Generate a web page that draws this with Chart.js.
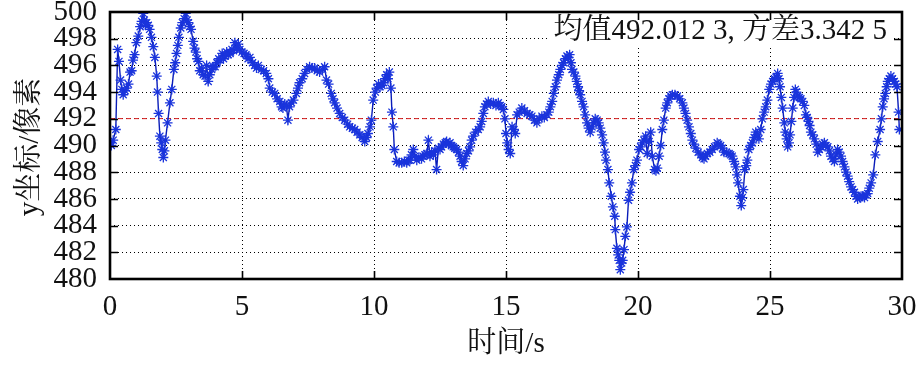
<!DOCTYPE html>
<html>
<head>
<meta charset="utf-8">
<script src="https://cdn.jsdelivr.net/npm/chart.js@4.4.0/dist/chart.umd.min.js"></script>
<style>
    html, body { margin: 0; padding: 0; background: #fff; }
    #wrap { width: 921px; height: 365px; }
</style>
</head>
<body>
<div id="wrap"><canvas id="chart" width="921" height="365"></canvas></div>
<script>
// time (s) and y coordinate (px)
const times = [
    0.00, 0.05, 0.12, 0.22, 0.29, 0.34, 0.40, 0.45, 0.50, 0.57, 0.63, 0.70, 0.76, 0.82, 0.87, 0.93,
    1.00, 1.07, 1.14, 1.20, 1.26, 1.30, 1.35, 1.39, 1.45, 1.50, 1.57, 1.64, 1.70, 1.77, 1.80, 1.84,
    1.89, 1.94, 1.98, 2.02, 2.06, 2.10, 2.18, 2.27, 2.34, 2.42, 2.47, 2.52, 2.57, 2.61, 2.68, 2.74,
    2.81, 2.87, 2.92, 2.97, 3.02, 3.07, 3.15, 3.20, 3.25, 3.30, 3.35, 3.40, 3.47, 3.53, 3.60, 3.66,
    3.72, 3.78, 3.85, 3.91, 3.98, 4.05, 4.12, 4.17, 4.25, 4.30, 4.35, 4.42, 4.48, 4.55, 4.62, 4.68,
    4.73, 4.80, 4.86, 4.92, 5.00, 5.08, 5.15, 5.23, 5.30, 5.40, 5.48, 5.55, 5.62, 5.73, 5.82, 5.92,
    6.00, 6.05, 6.15, 6.24, 6.33, 6.43, 6.50, 6.55, 6.62, 6.68, 6.74, 6.80, 6.87, 6.95, 7.06, 7.12,
    7.18, 7.28, 7.37, 7.46, 7.56, 7.65, 7.75, 7.85, 7.94, 8.05, 8.13, 8.20, 8.28, 8.38, 8.45, 8.51,
    8.60, 8.70, 8.80, 8.89, 9.00, 9.08, 9.18, 9.27, 9.36, 9.46, 9.55, 9.65, 9.72, 9.77, 9.85, 9.90,
    9.97, 10.05, 10.10, 10.17, 10.23, 10.30, 10.35, 10.42, 10.48, 10.53, 10.58, 10.64, 10.68, 10.73, 10.77, 10.86,
    10.95, 11.05, 11.15, 11.24, 11.30, 11.36, 11.42, 11.49, 11.55, 11.62, 11.70, 11.80, 11.86, 11.93, 12.00, 12.06,
    12.12, 12.18, 12.25, 12.31, 12.37, 12.44, 12.50, 12.56, 12.63, 12.70, 12.75, 12.82, 12.88, 12.94, 13.00, 13.06,
    13.13, 13.20, 13.26, 13.32, 13.38, 13.45, 13.51, 13.58, 13.64, 13.70, 13.76, 13.85, 13.95, 14.02, 14.08, 14.14,
    14.20, 14.26, 14.33, 14.42, 14.52, 14.62, 14.71, 14.78, 14.84, 14.90, 14.96, 15.00, 15.05, 15.10, 15.16, 15.23,
    15.30, 15.35, 15.42, 15.50, 15.60, 15.70, 15.80, 15.90, 15.98, 16.08, 16.17, 16.26, 16.36, 16.45, 16.55, 16.62,
    16.68, 16.75, 16.81, 16.87, 16.93, 17.00, 17.06, 17.12, 17.18, 17.25, 17.31, 17.37, 17.41, 17.46, 17.50, 17.57,
    17.63, 17.68, 17.73, 17.77, 17.81, 17.88, 17.94, 18.00, 18.07, 18.13, 18.19, 18.26, 18.32, 18.38, 18.45, 18.51,
    18.57, 18.64, 18.70, 18.75, 18.79, 18.86, 18.91, 18.99, 19.05, 19.12, 19.14, 19.20, 19.25, 19.29, 19.33, 19.38,
    19.42, 19.47, 19.52, 19.58, 19.64, 19.70, 19.77, 19.84, 19.90, 19.96, 20.04, 20.10, 20.16, 20.22, 20.29, 20.35,
    20.42, 20.48, 20.54, 20.63, 20.68, 20.73, 20.80, 20.86, 20.92, 20.98, 21.05, 21.11, 21.17, 21.24, 21.30, 21.40,
    21.49, 21.58, 21.68, 21.74, 21.80, 21.86, 21.93, 22.00, 22.06, 22.12, 22.19, 22.28, 22.38, 22.44, 22.50, 22.56,
    22.63, 22.72, 22.81, 22.90, 23.00, 23.06, 23.13, 23.20, 23.26, 23.35, 23.45, 23.51, 23.57, 23.64, 23.70, 23.75,
    23.79, 23.86, 23.91, 23.95, 23.99, 24.05, 24.10, 24.14, 24.20, 24.27, 24.33, 24.40, 24.46, 24.52, 24.58, 24.65,
    24.71, 24.78, 24.84, 24.90, 24.97, 25.04, 25.10, 25.17, 25.23, 25.29, 25.34, 25.38, 25.43, 25.48, 25.54, 25.58,
    25.63, 25.67, 25.72, 25.76, 25.81, 25.86, 25.91, 25.96, 26.00, 26.05, 26.11, 26.17, 26.24, 26.30, 26.36, 26.41,
    26.46, 26.50, 26.55, 26.62, 26.68, 26.75, 26.81, 26.87, 26.93, 27.00, 27.06, 27.12, 27.19, 27.25, 27.31, 27.38,
    27.44, 27.50, 27.56, 27.62, 27.69, 27.75, 27.82, 27.88, 27.94, 28.00, 28.07, 28.13, 28.20, 28.26, 28.32, 28.40,
    28.45, 28.51, 28.58, 28.64, 28.70, 28.76, 28.83, 28.91, 28.99, 29.08, 29.17, 29.22, 29.27, 29.32, 29.37, 29.42,
    29.46, 29.52, 29.58, 29.64, 29.71, 29.76, 29.81, 29.87, 29.90
];
const yCoord = [
    490.2, 490.0, 490.4, 491.2, 497.2, 496.3, 494.9, 494.2, 493.8, 494.1, 494.3, 494.6, 495.5, 495.6, 496.4, 496.8,
    497.7, 498.2, 498.9, 499.3, 499.9, 499.4, 499.0, 499.2, 499.0, 498.7, 498.1, 497.4, 496.6, 495.2, 494.0, 492.4,
    490.7, 490.2, 489.7, 489.1, 489.6, 490.4, 491.7, 493.2, 494.2, 495.7, 496.2, 496.9, 497.5, 498.1, 498.8, 499.2,
    499.5, 499.9, 499.4, 499.2, 498.9, 498.7, 497.8, 497.3, 497.0, 496.5, 496.3, 495.6, 495.8, 495.3, 495.2, 496.0,
    494.8, 495.3, 495.7, 495.9, 495.9, 496.2, 496.5, 496.4, 496.9, 496.5, 496.7, 497.0, 496.8, 496.9, 497.2, 497.1,
    497.7, 497.3, 497.6, 497.2, 497.0, 496.9, 496.8, 496.5, 496.6, 496.2, 496.0, 495.8, 496.0, 495.7, 495.6, 495.4,
    495.0, 494.3, 494.0, 493.9, 493.5, 493.3, 492.9, 492.8, 493.1, 493.0, 491.9, 492.9, 493.2, 493.4, 493.9, 494.3,
    494.7, 495.0, 495.4, 495.7, 495.9, 495.8, 495.8, 495.6, 495.5, 495.7, 495.9, 494.9, 494.6, 493.9, 493.5, 493.2,
    492.8, 492.4, 492.1, 491.9, 491.6, 491.4, 491.3, 491.2, 491.0, 490.8, 490.6, 490.3, 490.6, 490.9, 491.4, 491.9,
    493.4, 494.0, 494.3, 494.6, 494.4, 494.5, 494.7, 495.0, 495.3, 495.0, 495.5, 494.3, 492.5, 491.4, 489.7, 488.8,
    488.7, 488.7, 488.8, 488.7, 488.9, 488.9, 489.3, 489.7, 489.2, 488.9, 489.1, 489.0, 489.2, 489.3, 489.4, 490.4,
    489.2, 489.5, 489.3, 489.6, 488.2, 489.8, 489.7, 489.9, 490.1, 490.2, 490.3, 490.1, 490.2, 490.0, 489.9, 489.8,
    489.7, 489.5, 489.2, 488.8, 488.5, 489.0, 489.4, 489.6, 489.9, 490.4, 490.7, 491.0, 491.2, 491.4, 491.8, 492.4,
    492.9, 493.1, 493.3, 493.1, 493.2, 493.0, 493.2, 493.0, 492.9, 492.7, 492.0, 490.9, 490.2, 489.7, 489.4, 491.4,
    491.2, 490.9, 492.3, 492.5, 492.8, 492.6, 492.4, 492.3, 492.2, 491.9, 491.7, 492.0, 492.2, 492.1, 492.3, 492.5,
    492.9, 493.3, 493.9, 494.4, 494.9, 495.3, 495.7, 496.0, 496.2, 496.5, 496.7, 496.6, 496.8, 496.2, 495.7, 495.5,
    495.2, 494.8, 494.4, 494.1, 493.8, 493.3, 492.9, 492.3, 491.7, 491.3, 491.0, 491.4, 491.7, 492.0, 491.9, 491.7,
    491.3, 490.8, 490.2, 489.5, 488.9, 488.2, 487.2, 486.2, 485.4, 484.7, 483.7, 482.3, 481.8, 481.4, 480.7, 481.2,
    481.4, 482.2, 483.2, 483.9, 485.9, 486.5, 487.2, 488.2, 488.5, 488.9, 489.7, 489.9, 490.2, 490.4, 490.7, 489.4,
    490.3, 491.0, 489.2, 488.2, 488.1, 488.3, 489.2, 490.0, 491.2, 491.9, 492.8, 493.2, 493.5, 493.7, 493.8, 493.8,
    493.7, 493.5, 493.2, 492.8, 492.4, 491.9, 491.4, 490.9, 490.4, 490.1, 489.8, 489.5, 489.3, 489.1, 489.0, 489.2,
    489.4, 489.5, 489.7, 489.9, 490.2, 490.1, 490.0, 489.8, 489.5, 489.5, 489.4, 489.3, 489.2, 488.8, 488.4, 487.8,
    487.2, 486.2, 485.5, 486.1, 486.7, 488.2, 488.5, 488.9, 489.7, 490.0, 490.2, 490.6, 491.0, 490.8, 490.5, 491.2,
    492.0, 492.5, 492.9, 493.4, 494.2, 494.6, 494.8, 495.0, 495.1, 495.4, 495.0, 494.4, 493.6, 492.8, 491.7, 491.0,
    490.5, 489.9, 490.2, 490.8, 491.8, 492.8, 493.6, 494.2, 494.0, 493.7, 493.6, 493.5, 493.3, 493.0, 492.3, 492.1,
    491.8, 491.5, 491.0, 490.8, 490.5, 490.1, 489.5, 489.7, 489.9, 490.1, 490.2, 490.0, 489.9, 489.6, 489.2, 489.0,
    488.8, 489.3, 489.7, 489.5, 489.2, 488.8, 488.4, 488.0, 487.7, 487.3, 486.9, 486.7, 486.5, 486.2, 486.0, 486.1,
    486.2, 486.2, 486.1, 486.3, 486.4, 486.8, 487.2, 487.8, 489.3, 490.3, 491.2, 492.0, 492.9, 493.5, 493.9, 494.4,
    494.8, 495.0, 495.2, 495.0, 494.8, 494.6, 494.4, 492.5, 491.2
];
const meanValue = 492.0123;
const annotationText = '均值492.012 3, 方差3.342 5';
const xTicks = [0, 5, 10, 15, 20, 25, 30];
const yTicks = [480, 482, 484, 486, 488, 490, 492, 494, 496, 498, 500];
const xTitle = '时间/s';
const yTitle = 'y坐标/像素';

(function() {
    const serif = "'Liberation Serif', 'Times New Roman', 'Noto Serif CJK SC', 'Noto Sans CJK SC', serif";

    const points = times.map((t, i) => ({ x: t, y: yCoord[i] }));
    const meanLine = [{ x: xTicks[0], y: meanValue }, { x: xTicks[xTicks.length - 1], y: meanValue }];

    // text box, frame, inward ticks and axis titles
    const decorPlugin = {
        id: 'decor',
        afterDraw(chart) {
            const ctx = chart.ctx;
            const area = chart.chartArea;
            const xs = chart.scales.x;
            const ys = chart.scales.y;
            const tickLen = 8;

            ctx.save();
            ctx.font = '29px ' + serif;
            const textW = ctx.measureText(annotationText).width;
            const textRight = area.right - 15;
            ctx.fillStyle = '#fff';
            ctx.fillRect(textRight - textW - 6, area.top + 2, textW + 12, 33);

            ctx.strokeStyle = '#000';
            ctx.lineWidth = 1.6;
            xTicks.slice(1, -1).forEach(v => {
                const px = Math.round(xs.getPixelForValue(v)) + 0.5;
                ctx.beginPath();
                ctx.moveTo(px, area.bottom); ctx.lineTo(px, area.bottom - tickLen);
                ctx.moveTo(px, area.top); ctx.lineTo(px, area.top + tickLen);
                ctx.stroke();
            });
            yTicks.slice(1, -1).forEach(v => {
                const py = Math.round(ys.getPixelForValue(v)) + 0.5;
                ctx.beginPath();
                ctx.moveTo(area.left, py); ctx.lineTo(area.left + tickLen, py);
                ctx.moveTo(area.right, py); ctx.lineTo(area.right - tickLen, py);
                ctx.stroke();
            });

            ctx.lineWidth = 2.6;
            ctx.strokeRect(area.left, area.top, area.right - area.left, area.bottom - area.top);

            ctx.fillStyle = '#111';
            ctx.textAlign = 'right';
            ctx.textBaseline = 'middle';
            ctx.fillText(annotationText, textRight, 31);

            ctx.textAlign = 'center';
            ctx.font = '29px ' + serif;
            ctx.fillText(xTitle, (area.left + area.right) / 2, 344);

            ctx.translate(30, 147);
            ctx.rotate(-Math.PI / 2);
            ctx.fillText(yTitle, 0, 0);
            ctx.restore();
        }
    };

    const ctx = document.getElementById('chart').getContext('2d');

    new Chart(ctx, {
        type: 'scatter',
        data: {
            datasets: [{
                label: 'y',
                data: points,
                showLine: true,
                borderColor: '#0a1cb8',
                borderWidth: 1.4,
                pointStyle: 'star',
                pointRadius: 5,
                pointBorderWidth: 1.3,
                pointBorderColor: '#1a34dc',
                pointBackgroundColor: '#1a34dc',
                order: 1
            }, {
                label: 'mean',
                data: meanLine,
                showLine: true,
                borderColor: '#d41818',
                borderWidth: 1,
                borderDash: [5, 3],
                pointRadius: 0,
                order: 2
            }]
        },
        options: {
            responsive: false,
            animation: false,
            layout: {
                padding: { top: 12, right: 19, left: 0, bottom: 0 }
            },
            scales: {
                x: {
                    type: 'linear',
                    min: 0,
                    max: 30,
                    afterBuildTicks: scale => { scale.ticks = xTicks.map(v => ({ value: v })); },
                    afterFit: scale => { scale.height = 86; scale.paddingLeft = 0; scale.paddingRight = 0; },
                    grid: { color: '#000', lineWidth: 1, drawTicks: false },
                    border: { display: false, dash: [1, 3] },
                    ticks: {
                        color: '#111',
                        padding: 11,
                        autoSkip: false,
                        maxRotation: 0,
                        font: { family: serif, size: 29 }
                    }
                },
                y: {
                    min: 480,
                    max: 500,
                    afterBuildTicks: scale => { scale.ticks = yTicks.map(v => ({ value: v })); },
                    afterFit: scale => { scale.width = 110; scale.paddingTop = 0; scale.paddingBottom = 0; },
                    grid: { color: '#000', lineWidth: 1, drawTicks: false },
                    border: { display: false, dash: [1, 3] },
                    ticks: {
                        color: '#111',
                        padding: 13,
                        autoSkip: false,
                        font: { family: serif, size: 29, lineHeight: 1 }
                    }
                }
            },
            plugins: {
                legend: { display: false },
                tooltip: { enabled: false }
            }
        },
        plugins: [decorPlugin]
    });
})();
</script>
</body>
</html>
